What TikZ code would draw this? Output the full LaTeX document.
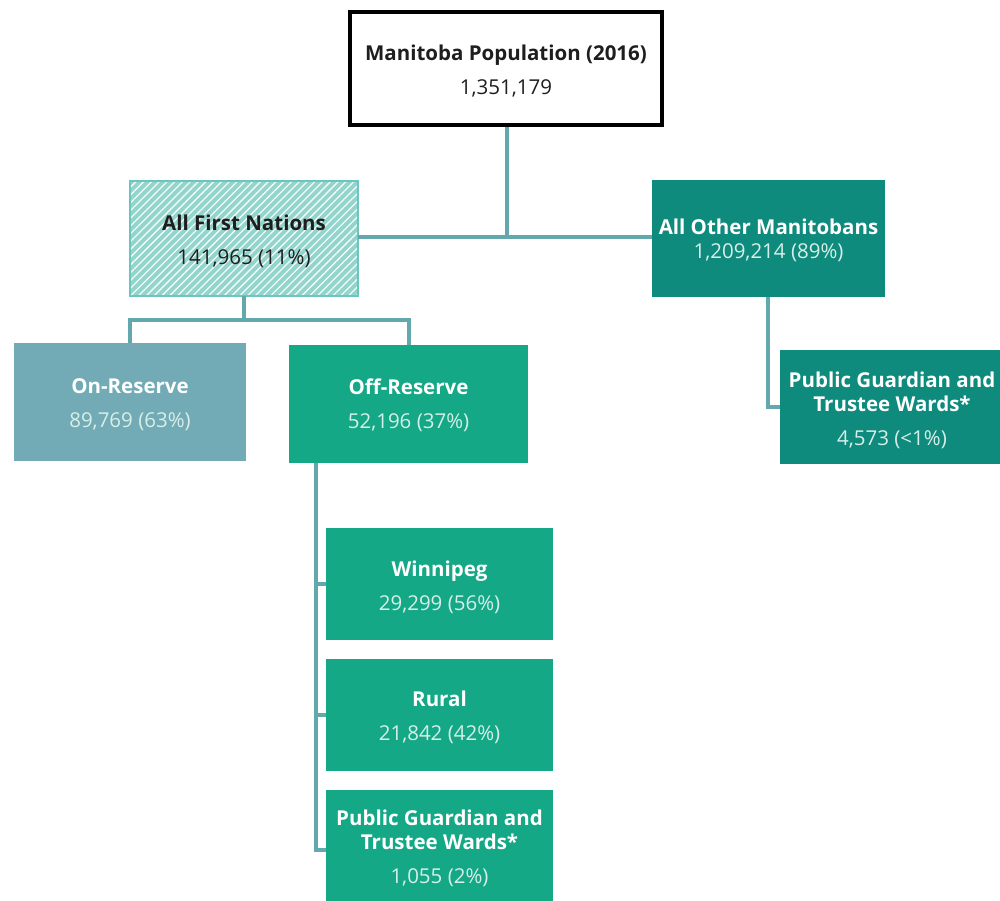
\documentclass[tikz,border=0pt]{standalone}
\usepackage{fontspec}
\setmainfont{Open Sans}
\usetikzlibrary{patterns.meta}
\definecolor{lnc}{HTML}{62A8AC}
\definecolor{afnfill}{HTML}{92D5CC}
\definecolor{afnedge}{HTML}{6CC6BD}
\definecolor{aomfill}{HTML}{0E8B7D}
\definecolor{onfill}{HTML}{72ABB5}
\definecolor{offfill}{HTML}{14A886}
\definecolor{numlight}{HTML}{D6EFE8}
\definecolor{txtdark}{HTML}{1E1E1E}
\tikzset{
  box/.style={rectangle, inner sep=0pt},
  lbl/.style={align=center, font=\fontsize{20.5}{34}\selectfont, inner sep=0pt, yshift=-3pt},
  dark/.style={box, fill=aomfill},
  green/.style={box, fill=offfill},
  conn/.style={draw=lnc, line width=4pt}
}
\newcommand{\nm}[1]{{\color{numlight}#1}}
\begin{document}
\begin{tikzpicture}[x=1pt,y=-1pt]
\useasboundingbox (0,0) rectangle (1000,901);
% nodes
\node[box, draw=black, line width=4pt, fill=white, minimum width=312pt, minimum height=113pt,
  label={[lbl, text=txtdark]center:{\textbf{Manitoba Population (2016)}\\ 1,351,179}}] (top) at (506,68.5) {};
\node[box, fill=afnfill, minimum width=228pt, minimum height=115pt,
  postaction={pattern={Lines[angle=45,distance=5.5pt,line width=1.3pt]}, pattern color=white!90!afnfill},
  postaction={draw=afnedge, line width=2.5pt},
  label={[lbl, text=txtdark]center:{\textbf{All First Nations}\\ 141,965 (11\%)}}] (afn) at (244,238.5) {};
\node[dark, minimum width=233pt, minimum height=117pt,
  label={[lbl, text=white, yshift=1pt]center:{\textbf{All Other Manitobans}\\[-10pt] \nm{1,209,214 (89\%)}}}] (aom) at (768.5,238.5) {};
\node[box, fill=onfill, minimum width=232pt, minimum height=118pt,
  label={[lbl, text=white]center:{\textbf{On-Reserve}\\ \nm{89,769 (63\%)}}}] (on) at (130,402) {};
\node[green, minimum width=239pt, minimum height=118pt,
  label={[lbl, text=white, yshift=1.5pt]center:{\textbf{Off-Reserve}\\ \nm{52,196 (37\%)}}}] (off) at (408.5,404) {};
\node[dark, minimum width=224pt, minimum height=114pt,
  label={[lbl, text=white]center:{\textbf{Public Guardian and}\\[-10pt] \textbf{Trustee Wards*}\\ \nm{4,573 (<1\%)}}}] (pgtr) at (892,407) {};
\node[green, minimum width=227pt, minimum height=112pt,
  label={[lbl, text=white]center:{\textbf{Winnipeg}\\ \nm{29,299 (56\%)}}}] (win) at (439.5,584) {};
\node[green, minimum width=227pt, minimum height=112pt,
  label={[lbl, text=white, yshift=1pt]center:{\textbf{Rural}\\ \nm{21,842 (42\%)}}}] (rur) at (439.5,715) {};
\node[green, minimum width=227pt, minimum height=116pt, anchor=north,
  label={[lbl, text=white, yshift=3pt]center:{\textbf{Public Guardian and}\\[-10pt] \textbf{Trustee Wards*}\\ \nm{1,055 (2\%)}}}] (pgtb) at (439.5,790) {};
% connectors
\coordinate (j1) at (507,237);
\draw[conn] (top.south -| j1) -- (j1);
\draw[conn] (afn.east |- j1) -- (aom.west |- j1);
\coordinate (j2) at (244,320);
\draw[conn] (afn.south) -- (j2);
\draw[conn] (on.north) |- (j2) -| (off.north);
\coordinate (v) at (316,0);
\draw[conn] (off.south -| v) |- (pgtb.west |- 0,850);
\draw[conn] (v |- win.west) -- (win.west);
\draw[conn] (v |- rur.west) -- (rur.west);
\coordinate (a) at (768,0);
\draw[conn] (aom.south -| a) |- (pgtr.west);
\end{tikzpicture}
\end{document}
